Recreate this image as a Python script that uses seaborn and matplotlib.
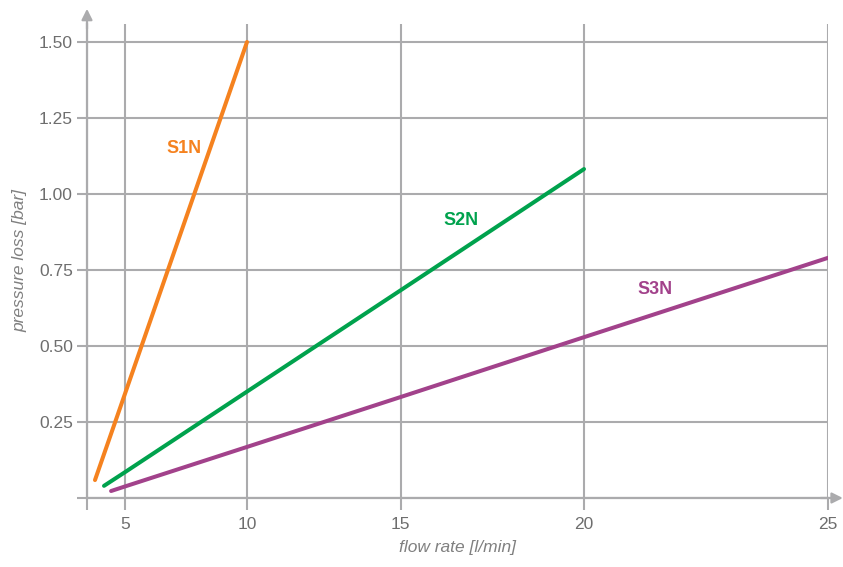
import numpy as np
import pandas as pd
import matplotlib
matplotlib.use("Agg")
import matplotlib.pyplot as plt
import seaborn as sns

# values (flow rate l/min, pressure loss bar)
s1n_flow = [3.77, 5, 10]
s1n_loss = [0.059, 0.343, 1.50]
s2n_flow = [4.14, 5, 10, 15, 20]
s2n_loss = [0.040, 0.085, 0.350, 0.683, 1.082]
s3n_flow = [4.43, 5, 10, 15, 20, 25]
s3n_loss = [0.023, 0.038, 0.168, 0.332, 0.529, 0.790]

series_names = ["S1N", "S2N", "S3N"]
x_ticks = [5, 10, 15, 20, 25]
y_ticks = [0.25, 0.50, 0.75, 1.00, 1.25, 1.50]

colors = {"S1N": "#F5821F", "S2N": "#00A24D", "S3N": "#A2428B"}
grid_col = "#ababad"
tick_col = "#6e6e6e"

df = pd.concat([
    pd.DataFrame({"flow": s1n_flow, "loss": s1n_loss, "series": "S1N"}),
    pd.DataFrame({"flow": s2n_flow, "loss": s2n_loss, "series": "S2N"}),
    pd.DataFrame({"flow": s3n_flow, "loss": s3n_loss, "series": "S3N"}),
])

# the original x axis is not evenly spaced -> piecewise linear scale
scale_vals = np.array([0, 5, 10, 15, 20, 25, 30], dtype=float)
scale_pos = np.array([3, 125, 247, 400.5, 584, 828, 1072], dtype=float)

def fwd(x):
    return np.interp(x, scale_vals, scale_pos)

def inv(p):
    return np.interp(p, scale_pos, scale_vals)

sns.set_style("white")
plt.rcParams["font.family"] = ["Liberation Sans", "DejaVu Sans"]

fig = plt.figure(figsize=(8.43, 5.67), dpi=100)
ax = fig.add_axes([87 / 843, (567 - 498) / 567, (828 - 87) / 843, (498 - 24) / 567])

sns.lineplot(data=df, x="flow", y="loss", hue="series", palette=colors,
             estimator=None, sort=False, linewidth=2.9, legend=False, ax=ax,
             solid_capstyle="round")

ax.set_xscale("function", functions=(fwd, inv))
x_left = inv(87)
ax.set_xlim(x_left, 25)
ax.set_ylim(0, (498 - 24) / 304)

ax.set_xticks([x_left] + x_ticks)
ax.set_xticklabels([""] + [str(t) for t in x_ticks])
ax.set_yticks([0] + y_ticks)
ax.set_yticklabels([""] + [f"{t:.2f}" for t in y_ticks])

ax.grid(True, color=grid_col, linewidth=1.5)
ax.set_axisbelow(True)
for s in ["top", "right"]:
    ax.spines[s].set_visible(False)
for s in ["left", "bottom"]:
    ax.spines[s].set_color(grid_col)
    ax.spines[s].set_linewidth(1.6)

ax.tick_params(axis="x", direction="out", length=8.5, width=1.5, color=grid_col,
               labelsize=12.5, labelcolor=tick_col, pad=5, bottom=True)
ax.tick_params(axis="y", direction="out", length=7.2, width=1.5, color=grid_col,
               labelsize=12.5, labelcolor=tick_col, pad=3, left=True)

ax.set_xlabel("flow rate [l/min]", fontsize=12.5, style="italic", color="#808080", labelpad=6)
ax.set_ylabel("pressure loss [bar]", fontsize=12.5, style="italic", color="#808080", labelpad=8)

# axis arrows
ax.annotate("", xy=(1.02, 0), xycoords=("axes fraction", "data"),
            xytext=(0.99, 0), textcoords=("axes fraction", "data"),
            arrowprops=dict(arrowstyle="-|>", color=grid_col, lw=1.6, mutation_scale=16,
                            shrinkA=0, shrinkB=0), annotation_clip=False)
ax.annotate("", xy=(x_left, 1.032), xycoords=("data", "axes fraction"),
            xytext=(x_left, 0.99), textcoords=("data", "axes fraction"),
            arrowprops=dict(arrowstyle="-|>", color=grid_col, lw=1.6, mutation_scale=16,
                            shrinkA=0, shrinkB=0), annotation_clip=False)

# series labels
label_pos = {"S1N": (7.42, 1.151), "S2N": (16.66, 0.914), "S3N": (21.45, 0.6875)}
for name in series_names:
    lx, ly = label_pos[name]
    ax.text(lx, ly, name, color=colors[name], fontsize=13, fontweight="bold",
            ha="center", va="center",
            family=["Liberation Sans Narrow", "Liberation Sans", "DejaVu Sans"])

fig.savefig("out.png", dpi=100)
